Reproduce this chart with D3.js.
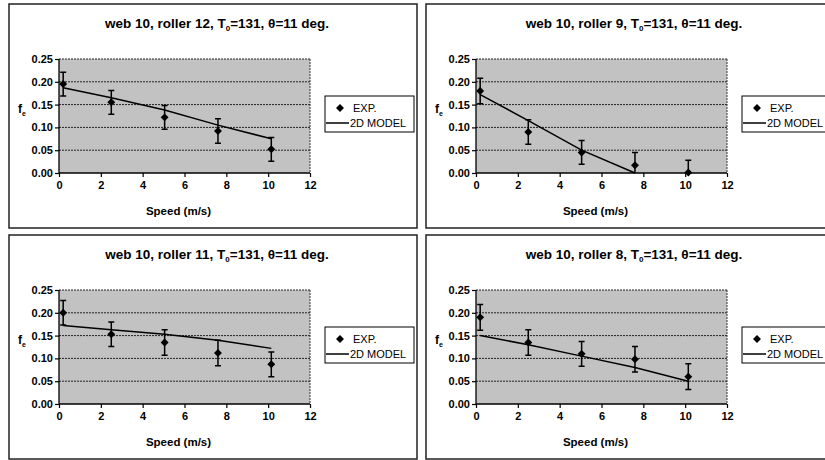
<html>
<head>
<script src="https://d3js.org/d3.v7.min.js"></script>
<style>
body { margin: 0; background: #fff; }
svg { display: block; font-family: "Liberation Sans", Arial, sans-serif; }
</style>
</head>
<body>
<div id="plot"></div>
<script>

// values
var speeds = [0.2, 2.5, 5.05, 7.6, 10.15];
var rollers = ["12", "9", "11", "8"];
var exp12 = [0.195, 0.155, 0.122, 0.092, 0.052];
var exp9  = [0.180, 0.090, 0.045, 0.017, 0.001];
var exp11 = [0.200, 0.153, 0.135, 0.112, 0.087];
var exp8  = [0.190, 0.135, 0.110, 0.098, 0.060];
var err12 = [0.026, 0.026, 0.026, 0.027, 0.026];
var err9  = [0.028, 0.027, 0.026, 0.028, 0.027];
var err11 = [0.027, 0.027, 0.028, 0.028, 0.027];
var err8  = [0.028, 0.028, 0.027, 0.028, 0.028];
var model12 = [0.187, 0.165, 0.138, 0.105, 0.075];
var model9  = [0.172, 0.115, 0.050, 0.000];
var model11 = [0.172, 0.163, 0.153, 0.140, 0.122];
var model8  = [0.150, 0.130, 0.105, 0.080, 0.050];
var xTicks = [0, 2, 4, 6, 8, 10, 12];
var yTicks = [0, 0.05, 0.10, 0.15, 0.20, 0.25];
var legendLabels = ["EXP.", "2D MODEL"];

var panels = [
  { roller: rollers[0], exp: exp12, err: err12, model: model12, x: 9, y: 4 },
  { roller: rollers[1], exp: exp9, err: err9, model: model9, x: 426, y: 4 },
  { roller: rollers[2], exp: exp11, err: err11, model: model11, x: 9, y: 235 },
  { roller: rollers[3], exp: exp8, err: err8, model: model8, x: 426, y: 235 }
];

var W = 825, H = 460;
var frameW = 408, frameH = 224;
var plotL = 50, plotT = 55, plotW = 251, plotH = 114;

var svg = d3.select("#plot").append("svg").attr("width", W).attr("height", H);
var defs = svg.append("defs");

var xScale = d3.scaleLinear().domain([0, 12]).range([0, plotW]);
var yScale = d3.scaleLinear().domain([0, 0.25]).range([plotH, 0]);
var fmt = d3.format(".2f");

panels.forEach(function (p, pi) {
  var g = svg.append("g").attr("transform", "translate(" + p.x + "," + p.y + ")");

  g.append("rect").attr("x", 0).attr("y", 0).attr("width", frameW).attr("height", frameH)
    .attr("fill", "#fff").attr("stroke", "#222").attr("stroke-width", 1.5);

  // title
  var title = g.append("text").attr("x", frameW / 2 + 4).attr("y", 24)
    .attr("text-anchor", "middle").style("font-size", "13.5px").style("font-weight", "bold");
  title.append("tspan").text("web 10, roller " + p.roller + ", T");
  title.append("tspan").attr("dy", 3).style("font-size", "8px").text("0");
  title.append("tspan").attr("dy", -3).text("=131, \u03b8=11 deg.");

  var plot = g.append("g").attr("transform", "translate(" + plotL + "," + plotT + ")");
  var clipId = "clip" + pi;
  defs.append("clipPath").attr("id", clipId).append("rect")
    .attr("x", 0).attr("y", 0).attr("width", plotW).attr("height", plotH);

  // halftone grey plot area
  plot.append("rect").attr("width", plotW).attr("height", plotH).attr("fill", "#c2c2c2");

  // gridlines
  plot.selectAll("line.grid").data(yTicks.filter(d => d > 0)).enter()
    .append("line").attr("class", "grid")
    .attr("x1", 0).attr("x2", plotW)
    .attr("y1", d => yScale(d)).attr("y2", d => yScale(d))
    .attr("stroke", "#222").attr("stroke-width", 1).attr("stroke-dasharray", "2,1");
  plot.append("line").attr("x1", plotW).attr("x2", plotW).attr("y1", 0).attr("y2", plotH)
    .attr("stroke", "#333").attr("stroke-width", 1).attr("stroke-dasharray", "2,1");

  // axes
  var yAxis = d3.axisLeft(yScale).tickValues(yTicks).tickSize(4).tickFormat(fmt);
  var xAxis = d3.axisBottom(xScale).tickValues(xTicks).tickSize(4).tickFormat(d3.format("d"));
  var ya = plot.append("g").call(yAxis);
  var xa = plot.append("g").attr("transform", "translate(0," + plotH + ")").call(xAxis);
  [ya, xa].forEach(function (a) {
    a.attr("font-family", null).attr("font-size", null);
    a.select(".domain").attr("stroke", "#000").attr("stroke-width", 1.3);
    a.selectAll(".tick line").attr("stroke", "#000").attr("stroke-width", 1.2);
    a.selectAll(".tick text").attr("fill", "#000")
      .style("font-size", "11px").style("font-weight", "bold");
  });
  ya.select(".domain").attr("d", "M0," + plotH + "V0");
  xa.select(".domain").attr("d", "M0,0H" + plotW);
  ya.selectAll(".tick text").attr("x", -6);
  xa.selectAll(".tick text").attr("y", 8);

  // model line
  var line = d3.line().x((d, i) => xScale(speeds[i])).y(d => yScale(d));
  plot.append("path").datum(p.model).attr("d", line)
    .attr("fill", "none").attr("stroke", "#000").attr("stroke-width", 1.5);

  // error bars
  var pts = p.exp.map((v, i) => ({ x: speeds[i], y: v, e: p.err[i] }));
  var eb = plot.append("g").attr("clip-path", "url(#" + clipId + ")");
  eb.selectAll("path.err").data(pts).enter().append("path")
    .attr("d", function (d) {
      var x = xScale(d.x), y1 = yScale(d.y + d.e), y2 = yScale(d.y - d.e);
      return "M" + (x - 3) + "," + y1 + "H" + (x + 3) + "M" + x + "," + y1 + "V" + y2 +
        "M" + (x - 3) + "," + y2 + "H" + (x + 3);
    })
    .attr("fill", "none").attr("stroke", "#000").attr("stroke-width", 1.5);

  // diamonds
  var diamond = d3.symbol().type(d3.symbolDiamond2).size(40);
  plot.selectAll("path.pt").data(pts).enter().append("path")
    .attr("transform", d => "translate(" + xScale(d.x) + "," + yScale(d.y) + ")")
    .attr("d", diamond).attr("fill", "#000");

  // axis titles
  plot.append("text").attr("x", plotW / 2 - 6).attr("y", plotH + 42)
    .attr("text-anchor", "middle").style("font-size", "11.5px").style("font-weight", "bold")
    .text("Speed (m/s)");
  var yl = g.append("text").attr("x", 9).attr("y", plotT + plotH / 2 - 3)
    .style("font-size", "12px").style("font-weight", "bold");
  yl.append("tspan").text("f");
  yl.append("tspan").attr("dy", 3).style("font-size", "7px").text("e");

  // legend
  var lg = g.append("g").attr("transform", "translate(316,92)");
  lg.append("rect").attr("width", 89).attr("height", 36)
    .attr("fill", "#fff").attr("stroke", "#000").attr("stroke-width", 1);
  lg.append("path").attr("transform", "translate(15,12)").attr("d", diamond).attr("fill", "#000");
  lg.append("line").attr("x1", 1).attr("x2", 24).attr("y1", 27).attr("y2", 27)
    .attr("stroke", "#000").attr("stroke-width", 1.5);
  lg.selectAll("text").data(legendLabels).enter().append("text")
    .attr("x", (d, i) => i === 0 ? 28 : 25).attr("y", (d, i) => 16 + i * 15)
    .style("font-size", "11px").text(d => d);
});

</script>
</body>
</html>
